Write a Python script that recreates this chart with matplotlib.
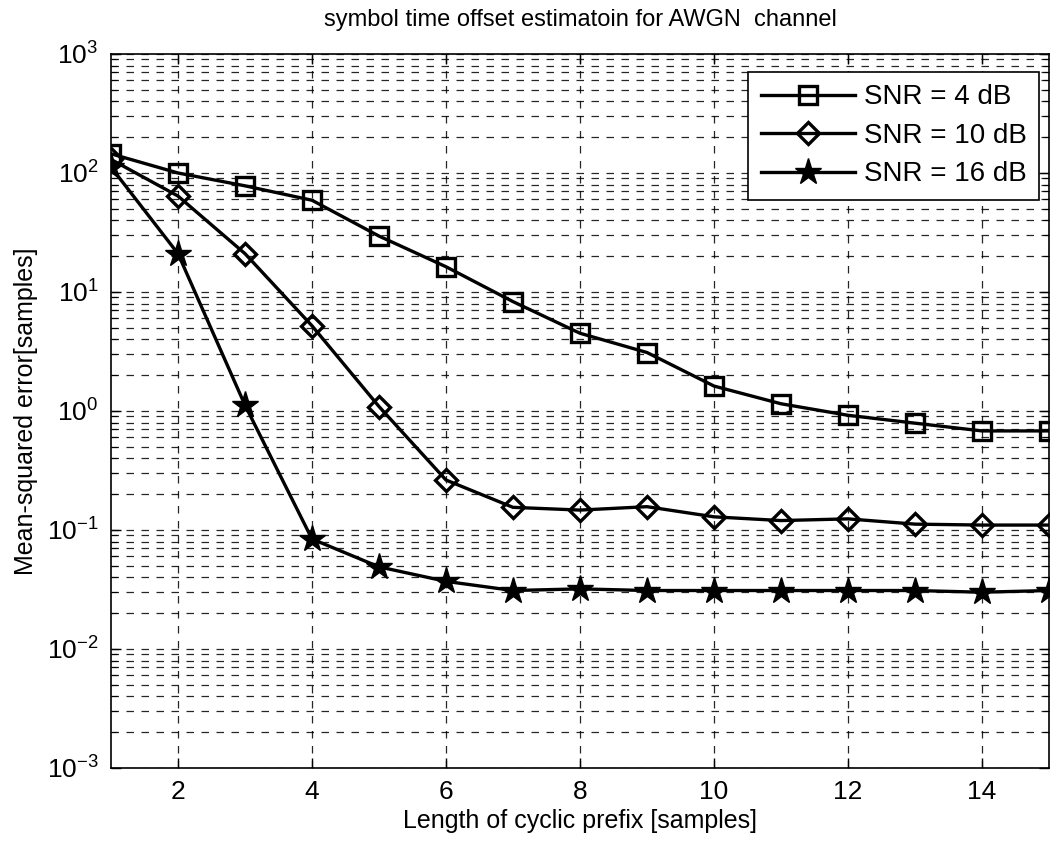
import matplotlib
matplotlib.use("Agg")
import matplotlib.pyplot as plt
from matplotlib.ticker import FixedLocator, NullFormatter, LogFormatterSciNotation

plt.rcParams['font.family'] = ['Liberation Sans', 'DejaVu Sans']
plt.rcParams['mathtext.fontset'] = 'custom'
plt.rcParams['mathtext.rm'] = 'Liberation Sans'
plt.rcParams['axes.unicode_minus'] = False

# data
cp_len = [1, 2, 3, 4, 5, 6, 7, 8, 9, 10, 11, 12, 13, 14, 15]
mse_snr4 = [145, 100, 78, 59, 29.5, 16.3, 8.3, 4.5, 3.1, 1.62, 1.15, 0.92, 0.79, 0.68, 0.68]
mse_snr10 = [130, 64, 21, 5.2, 1.09, 0.263, 0.155, 0.147, 0.157, 0.129, 0.12, 0.124, 0.112, 0.11, 0.11]
mse_snr16 = [112, 21, 1.12, 0.084, 0.049, 0.037, 0.031, 0.032, 0.031, 0.031, 0.031, 0.031, 0.031, 0.030, 0.031]
labels = ['SNR = 4 dB', 'SNR = 10 dB', 'SNR = 16 dB']
x_ticks = [2, 4, 6, 8, 10, 12, 14]
y_ticks = [1e-3, 1e-2, 1e-1, 1e0, 1e1, 1e2, 1e3]

fig = plt.figure(figsize=(10.58, 8.46), dpi=100)
ax = fig.add_axes([0.1049, 0.0922, 0.8866, 0.844])

ax.semilogy(cp_len, mse_snr4, '-s', color='black', lw=2.4, ms=13, mew=2.4, mfc='none', label=labels[0])
ax.semilogy(cp_len, mse_snr10, '-D', color='black', lw=2.4, ms=11, mew=2.4, mfc='none', label=labels[1])
ax.semilogy(cp_len, mse_snr16, '-*', color='black', lw=2.4, ms=20, mew=1, mfc='black', label=labels[2])

ax.set_xlim(1, 15)
ax.set_ylim(1e-3, 1e3)
ax.xaxis.set_major_locator(FixedLocator(x_ticks))
ax.yaxis.set_major_locator(FixedLocator(y_ticks))
ax.yaxis.set_major_formatter(LogFormatterSciNotation())
minor = [m * d for d in y_ticks[:-1] for m in range(2, 10)]
ax.yaxis.set_minor_locator(FixedLocator(minor))
ax.yaxis.set_minor_formatter(NullFormatter())

ax.grid(True, which='major', axis='both', color='black', linestyle=(0, (6, 6)), linewidth=0.9, alpha=0.85)
ax.grid(True, which='minor', axis='y', color='black', linestyle=(0, (6, 6)), linewidth=0.9, alpha=0.85)

ax.tick_params(which='both', direction='in', top=True, right=True, labelsize=19, color='black')
ax.tick_params(which='major', length=7, width=1, pad=9)
ax.tick_params(which='minor', length=4, width=0.8)
for s in ax.spines.values():
    s.set_linewidth(1.2)

ax.set_title('symbol time offset estimatoin for AWGN  channel', fontsize=17, pad=20)
ax.set_xlabel('Length of cyclic prefix [samples]', fontsize=18, labelpad=3)
ax.set_ylabel('Mean-squared error[samples]', fontsize=18, labelpad=6)

leg = ax.legend(loc='upper right', bbox_to_anchor=(0.9893, 0.9748), borderaxespad=0,
                fontsize=20, fancybox=False, framealpha=1, edgecolor='black',
                handlelength=3.4, handletextpad=0.3, labelspacing=0.45, borderpad=0.45)
leg.get_frame().set_linewidth(1.2)

fig.savefig('out.png', dpi=100)
